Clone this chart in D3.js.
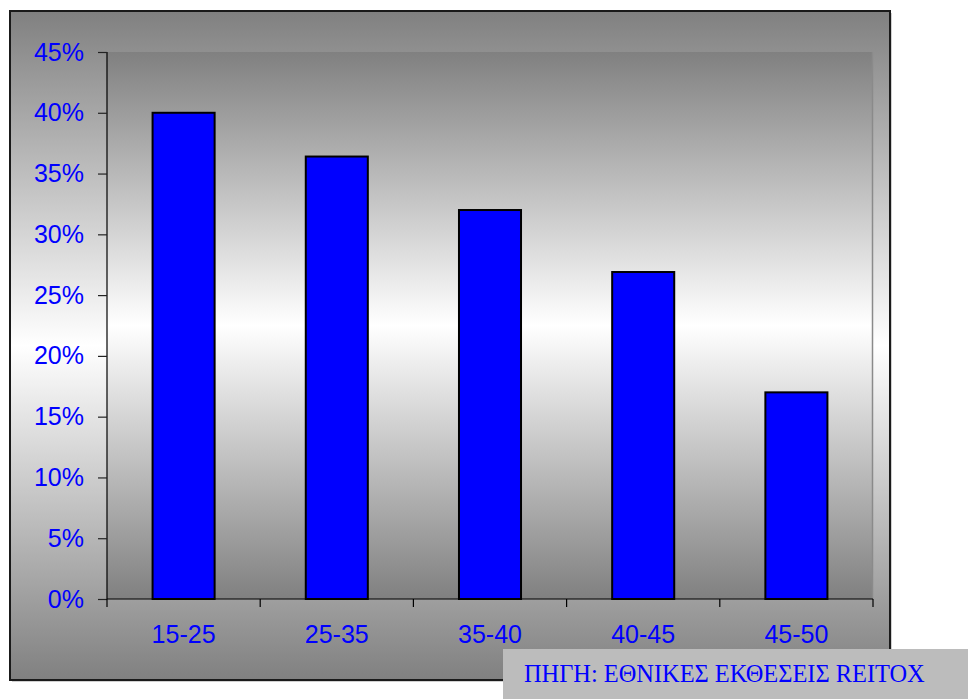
<!DOCTYPE html>
<html>
<head>
<meta charset="utf-8">
<script src="https://cdn.jsdelivr.net/npm/d3@7/dist/d3.min.js"></script>
<style>
  html, body { margin: 0; padding: 0; background: #ffffff; }
  svg { display: block; }
</style>
</head>
<body>
<svg id="chart" width="968" height="699"></svg>
<script>
// Age groups and share of each group
const categories = ["15-25", "25-35", "35-40", "40-45", "45-50"];
const values = [0.40, 0.364, 0.32, 0.269, 0.17];
const yTicks = [0, 0.05, 0.10, 0.15, 0.20, 0.25, 0.30, 0.35, 0.40, 0.45];
const sourceText = "ΠΗΓΗ: ΕΘΝΙΚΕΣ ΕΚΘΕΣΕΙΣ REITOX";

const svg = d3.select("#chart");
const W = 968, H = 699;

const frame = { x0: 10, y0: 11, x1: 890, y1: 680 };
const plot = { left: 107, right: 873, top: 52, bottom: 599 };

const defs = svg.append("defs");
function grayGradient(id) {
  const g = defs.append("linearGradient")
    .attr("id", id).attr("x1", 0).attr("y1", 0).attr("x2", 0).attr("y2", 1);
  g.append("stop").attr("offset", "0%").attr("stop-color", "#808080");
  g.append("stop").attr("offset", "50%").attr("stop-color", "#ffffff");
  g.append("stop").attr("offset", "100%").attr("stop-color", "#808080");
}
grayGradient("outerGrad");
grayGradient("plotGrad");

// Chart frame with a faint drop shadow
svg.append("rect")
  .attr("x", frame.x0 + 2).attr("y", frame.y0 + 2)
  .attr("width", frame.x1 - frame.x0).attr("height", frame.y1 - frame.y0)
  .attr("fill", "#d0d0d0");
svg.append("rect")
  .attr("x", frame.x0).attr("y", frame.y0)
  .attr("width", frame.x1 - frame.x0).attr("height", frame.y1 - frame.y0)
  .attr("fill", "url(#outerGrad)")
  .attr("stroke", "#1a1a1a").attr("stroke-width", 2);

// Plot area
svg.append("rect")
  .attr("x", plot.left).attr("y", plot.top)
  .attr("width", plot.right - plot.left).attr("height", plot.bottom - plot.top)
  .attr("fill", "url(#plotGrad)");
svg.append("line")
  .attr("x1", plot.right - 0.5).attr("x2", plot.right - 0.5)
  .attr("y1", plot.top).attr("y2", plot.bottom)
  .attr("stroke", "#8a8a8a").attr("stroke-width", 1.5);

const x = d3.scaleBand().domain(categories).range([plot.left, plot.right]).padding(0);
const y = d3.scaleLinear().domain([0, 0.45]).range([plot.bottom, plot.top]);

const barFrac = 0.405;
const barW = x.bandwidth() * barFrac;

svg.append("g").selectAll("rect")
  .data(categories)
  .join("rect")
  .attr("x", d => x(d) + (x.bandwidth() - barW) / 2)
  .attr("y", (d, i) => y(values[i]))
  .attr("width", barW)
  .attr("height", (d, i) => y(0) - y(values[i]))
  .attr("fill", "#0000ff")
  .attr("stroke", "#000000")
  .attr("stroke-width", 2);

// Y axis
const yAxis = d3.axisLeft(y)
  .tickValues(yTicks)
  .tickFormat(d3.format(".0%"))
  .tickSize(9)
  .tickPadding(14);
const gy = svg.append("g")
  .attr("transform", `translate(${plot.left},0)`)
  .call(yAxis);
gy.select(".domain").attr("stroke", "#000").attr("stroke-width", 1.2)
  .attr("d", `M0,${plot.top}V${plot.bottom}`);
gy.selectAll(".tick line").attr("stroke", "#222").attr("stroke-width", 1.2);
gy.selectAll(".tick text")
  .attr("fill", "#0000ff")
  .style("font-family", "'Liberation Sans', Arial, sans-serif")
  .style("font-size", "25px");

// X axis: ticks sit on the category boundaries
const boundaries = categories.map(c => x(c)).concat([plot.right]);
const gx = svg.append("g");
gx.append("line")
  .attr("x1", plot.left).attr("x2", plot.right)
  .attr("y1", plot.bottom).attr("y2", plot.bottom)
  .attr("stroke", "#000").attr("stroke-width", 1.2);
gx.selectAll("line.tk")
  .data(boundaries)
  .join("line")
  .attr("class", "tk")
  .attr("x1", d => d).attr("x2", d => d)
  .attr("y1", plot.bottom).attr("y2", plot.bottom + 8)
  .attr("stroke", "#000").attr("stroke-width", 1.2);
gx.selectAll("text")
  .data(categories)
  .join("text")
  .attr("x", d => x(d) + x.bandwidth() / 2)
  .attr("y", 643)
  .attr("text-anchor", "middle")
  .attr("fill", "#0000ff")
  .style("font-family", "'Liberation Sans', Arial, sans-serif")
  .style("font-size", "25px")
  .text(d => d);

// Source note
svg.append("rect")
  .attr("x", 503).attr("y", 649)
  .attr("width", W - 503).attr("height", H - 649)
  .attr("fill", "#bcbcbc");
svg.append("text")
  .attr("x", 524).attr("y", 682)
  .attr("fill", "#0000ff")
  .style("font-family", "'Liberation Serif', 'Times New Roman', serif")
  .style("font-size", "24.4px")
  .text(sourceText);
</script>
</body>
</html>
